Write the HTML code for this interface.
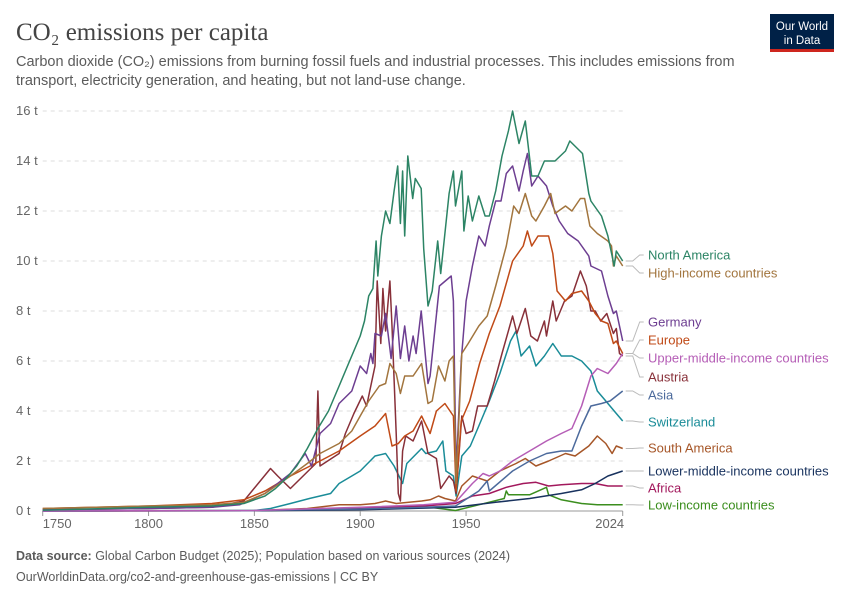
<!DOCTYPE html>
<html><head><meta charset="utf-8"><style>
body{margin:0;background:#fff;}
svg{display:block;font-family:"Liberation Sans",sans-serif;}
</style></head><body>
<svg id="chart" width="850" height="600" viewBox="0 0 850 600">
<text x="16" y="40" font-family="Liberation Serif,serif" font-size="25" fill="#444">CO₂ emissions per capita</text>
<text x="16" y="66" font-size="14.5" fill="#5b5b5b">Carbon dioxide (CO₂) emissions from burning fossil fuels and industrial processes. This includes emissions from</text>
<text x="16" y="85" font-size="14.5" fill="#5b5b5b">transport, electricity generation, and heating, but not land-use change.</text>
<g>
<rect x="770" y="14" width="64" height="38" fill="#002147"/>
<rect x="770" y="49" width="64" height="3" fill="#ce261e"/>
<text x="802" y="30" font-size="11.5" fill="#fff" text-anchor="middle">Our World</text>
<text x="802" y="44" font-size="11.5" fill="#fff" text-anchor="middle">in Data</text>
</g>
<g id="grid"></g>
<g id="lines"></g>
<g id="labels"></g>
<text x="16" y="560" font-size="12.5" fill="#5b5b5b"><tspan font-weight="bold">Data source:</tspan> Global Carbon Budget (2025); Population based on various sources (2024)</text>
<text x="16" y="581" font-size="12.5" fill="#5b5b5b">OurWorldinData.org/co2-and-greenhouse-gas-emissions | CC BY</text>
</svg>
<script>
const yTicks = [0,2,4,6,8,10,12,14,16];
const xTicks = [1750,1800,1850,1900,1950,2024];
const northAmerica = [[1750,0.03],[1800,0.15],[1830,0.2],[1845,0.3],[1855,0.6],[1860,0.9],[1865,1.3],[1870,1.8],[1875,2.5],[1880,3.3],[1885,4.0],[1890,5.0],[1895,6.0],[1900,7.0],[1902,7.6],[1904,8.6],[1906,8.9],[1907.5,10.8],[1908.3,9.4],[1910,11],[1912,12],[1914,11.5],[1916,12.8],[1917.7,13.8],[1919,11.5],[1920,13.6],[1921,11.0],[1922.5,14.2],[1924.8,12.5],[1926,13.3],[1928.8,12.9],[1930,10.5],[1932,8.2],[1934,8.8],[1936.6,10.8],[1938,9.5],[1942,12.7],[1944,13.6],[1945,12.2],[1948,13.6],[1949,11.2],[1951,12.6],[1953,11.6],[1956,12.6],[1959,11.8],[1961,11.8],[1964,12.8],[1967,14.2],[1970,15.2],[1972,16.0],[1975,14.7],[1978,15.6],[1981,13.4],[1984,13.4],[1987,14.0],[1992,14.0],[1997,14.4],[1999,14.8],[2005,14.3],[2008,12.7],[2009,12.4],[2014,11.8],[2017,11.0],[2020,9.8],[2021,10.4],[2024,10.0]];
const highIncome = [[1750,0.1],[1800,0.2],[1830,0.25],[1845,0.35],[1855,0.7],[1867,1.4],[1875,1.9],[1881,2.3],[1890,2.7],[1896,3.2],[1900,3.8],[1904,4.4],[1909,5.0],[1912,5.1],[1914,5.9],[1917,5.5],[1919,4.7],[1921,5.4],[1925,5.4],[1929,5.9],[1932,4.3],[1934,4.4],[1937,5.8],[1940,5.2],[1942,6.0],[1944,6.2],[1945.3,1.1],[1948,6.3],[1951,6.7],[1956,7.4],[1960,7.8],[1964,9.0],[1969,10.6],[1972.5,12.2],[1975,11.9],[1978,12.7],[1981,11.8],[1983,11.6],[1987,12.2],[1990,12.7],[1992,11.9],[1997,12.2],[2000,12.0],[2004,12.5],[2006,12.5],[2008.5,11.4],[2012,11.1],[2017,10.8],[2018.7,10.6],[2019.6,9.8],[2021,10.2],[2024,9.8]];
const germany = [[1750,0.05],[1800,0.1],[1830,0.15],[1843,0.25],[1855,0.7],[1867,1.5],[1874,2.3],[1877,1.8],[1881,3.1],[1886,3.5],[1890,4.3],[1896,4.8],[1900,5.8],[1903,5.5],[1905,6.3],[1906,5.9],[1907,7.1],[1910,7.0],[1912,7.9],[1914.6,6.1],[1917,8.2],[1919,6.1],[1921,7.4],[1923,6.0],[1925,7.0],[1926.4,6.3],[1928.8,8.0],[1932,5.1],[1933,5.4],[1937.4,9.0],[1943,9.4],[1944,8.4],[1945.3,1.6],[1947.7,6.0],[1950,8.4],[1953,9.8],[1956,11],[1959,10.6],[1961,11.4],[1964,12.4],[1966.5,12.4],[1969,13.5],[1972,13.8],[1975,12.8],[1977,13.6],[1979,14.3],[1981,13.0],[1984,13.4],[1988,13.0],[1991,12.2],[1994,11.6],[1998,11.1],[2003,10.8],[2008,10.2],[2009,9.8],[2014,9.6],[2017,8.6],[2019.6,7.9],[2021,8.0],[2024,6.8]];
const europe = [[1750,0.1],[1800,0.2],[1830,0.3],[1845,0.45],[1855,0.8],[1867,1.4],[1881,2.0],[1890,2.4],[1900,3.0],[1907,3.4],[1912,3.9],[1915,2.6],[1918,2.7],[1921,3.0],[1925,3.2],[1929,3.8],[1933,3.1],[1936,4.0],[1940,4.3],[1944,3.8],[1945.3,0.8],[1947.7,3.6],[1951.7,4.4],[1956.4,5.9],[1961,7.1],[1966,8.2],[1972,10.0],[1977,10.6],[1979,11.2],[1981,10.6],[1984,11.0],[1989,11.0],[1991,10.3],[1993,8.8],[1997,8.4],[2000,8.7],[2004.6,8.8],[2008,8.4],[2011,7.9],[2014,7.6],[2017,7.5],[2019.6,6.7],[2021,6.8],[2024,6.3]];
const upperMiddle = [[1750,0],[1850,0.02],[1900,0.15],[1930,0.25],[1945,0.35],[1953,1.1],[1958,1.5],[1961,1.4],[1966,1.6],[1972,2.0],[1980,2.4],[1988,2.8],[1995,3.1],[2000,3.3],[2004.6,4.2],[2009,5.4],[2012,5.7],[2017,5.5],[2021,5.9],[2024,6.3]];
const austria = [[1750,0.05],[1800,0.1],[1830,0.15],[1845,0.4],[1857.6,1.7],[1861,1.4],[1867,0.9],[1879,1.9],[1880,4.8],[1881,1.8],[1890,2.3],[1893,3.1],[1897,3.9],[1901,4.6],[1903,4.2],[1907,5.8],[1908,9.2],[1909.7,6.7],[1910.7,8.9],[1912,7.2],[1914,9.2],[1915,7.4],[1917,3.1],[1918,0.7],[1919,0.4],[1920,2.4],[1921.5,3.0],[1925,2.8],[1929,3.6],[1932,2.3],[1936,2.1],[1938,0.9],[1942,1.4],[1944,1.2],[1945.3,0.7],[1948,3.8],[1950,3.1],[1953,3.2],[1955.5,4.2],[1960,4.2],[1963.5,5.2],[1967,6.3],[1972,7.8],[1974,7.1],[1978,8.1],[1980.6,7.0],[1983.7,6.8],[1987,7.6],[1988,7.0],[1991,8.4],[1992.6,7.6],[1996.5,8.4],[2000,8.6],[2004,9.6],[2006.8,9.0],[2009,8.0],[2011,8.0],[2013.6,7.6],[2016.5,7.9],[2019.6,7.1],[2021,7.3],[2022.5,6.3],[2024,6.2]];
const asia = [[1750,0],[1850,0.02],[1900,0.08],[1930,0.15],[1945,0.2],[1956,0.8],[1960,1.2],[1961,0.8],[1972,1.6],[1980,2.0],[1988,2.3],[1995,2.4],[2000,2.4],[2004.6,3.4],[2009,4.2],[2014,4.3],[2018,4.4],[2024,4.8]];
const switzerland = [[1750,0],[1850,0.02],[1857.6,0.1],[1867,0.3],[1876,0.5],[1886,0.7],[1890,1.1],[1896,1.4],[1900,1.6],[1907,2.2],[1912,2.3],[1916,1.8],[1920,1.1],[1922,1.9],[1929,2.5],[1931,2.3],[1936,2.4],[1939,2.8],[1940.5,1.6],[1944,1.4],[1945.3,0.6],[1948,2.2],[1952,2.6],[1956,3.4],[1961,4.4],[1966,5.5],[1971,6.8],[1973.6,7.2],[1976,6.2],[1980,6.6],[1983,5.8],[1987,6.2],[1991,6.7],[1995,6.2],[2000,6.2],[2004.6,6.0],[2009,5.6],[2012,4.8],[2016,4.4],[2021,3.9],[2024,3.6]];
const southAmerica = [[1750,0],[1850,0.02],[1860,0.05],[1875,0.1],[1890,0.25],[1900,0.25],[1907,0.3],[1912,0.4],[1917,0.3],[1929,0.4],[1933,0.45],[1937,0.6],[1940,0.5],[1945,0.4],[1948,1.0],[1953,1.4],[1960,1.2],[1966,1.6],[1973.6,1.9],[1978,2.1],[1983,1.8],[1989,2.0],[1997,2.3],[2001.5,2.2],[2008,2.6],[2012,3.0],[2016,2.7],[2019,2.3],[2021,2.6],[2024,2.5]];
const lowerMiddle = [[1750,0],[1850,0.01],[1900,0.05],[1945,0.15],[1964,0.35],[1980,0.5],[1995,0.7],[2004.6,0.85],[2011,1.1],[2017,1.4],[2024,1.6]];
const africa = [[1750,0],[1850,0.01],[1900,0.1],[1930,0.2],[1945,0.3],[1953,0.6],[1961,0.7],[1969,0.95],[1977,1.1],[1983,1.15],[1989,1.0],[1995,1.05],[2004.6,1.1],[2011,1.1],[2017,1.0],[2024,1.0]];
const lowIncome = [[1750,0],[1850,0.01],[1900,0.08],[1933,0.15],[1945,0.02],[1956,0.25],[1968,0.5],[1969,0.8],[1970,0.65],[1980,0.65],[1988,0.95],[1989,0.65],[1995,0.45],[2004.6,0.3],[2012,0.25],[2024,0.25]];
const seriesNames = ["North America","High-income countries","Germany","Europe","Upper-middle-income countries","Austria","Asia","Switzerland","South America","Lower-middle-income countries","Africa","Low-income countries"];
const seriesData = [northAmerica,highIncome,germany,europe,upperMiddle,austria,asia,switzerland,southAmerica,lowerMiddle,africa,lowIncome];
const seriesColors = ["#2c8465","#a2753e","#6d3e91","#c04a17","#b55db6","#883039","#4c6a9c","#1a8c98","#a65628","#18325e","#a2185c","#3b8e1e"];
const labelY = [255,273,322,340,358,377,395,422,448,471,488,505];

const NS="http://www.w3.org/2000/svg";
const X0=42.7, X1=622.7, Y0=511, PX=(X1-X0)/(2024-1750), PY=25;
function xs(yr){return X0+(yr-1750)*PX;}
function ys(v){return Y0-v*PY;}
function mk(tag,attrs,parent){const e=document.createElementNS(NS,tag);for(const k in attrs)e.setAttribute(k,attrs[k]);parent.appendChild(e);return e;}
const grid=document.getElementById('grid'), lines=document.getElementById('lines'), labels=document.getElementById('labels');
yTicks.forEach(t=>{
  if(t>0){const l=mk('line',{x1:X0,x2:X1,y1:ys(t),y2:ys(t),stroke:'#ddd','stroke-dasharray':'4,4'},grid);
  
  }
  const tx=mk('text',{x:16,y:ys(t)+4,'font-size':13,fill:'#666'},grid);
  tx.textContent=t+' t';
  
  
});
const base=mk('line',{x1:X0,x2:X1,y1:Y0,y2:Y0,stroke:'#999'},grid);


xTicks.forEach(yr=>{
  const tk=mk('line',{x1:xs(yr),x2:xs(yr),y1:Y0,y2:Y0+5,stroke:'#999'},grid);
  
  
  const tx=mk('text',{x:yr===1750?X0:(yr===2024?xs(yr)-13:xs(yr)),y:528,'font-size':13,fill:'#666','text-anchor':yr===1750?'start':'middle'},grid);
  tx.textContent=yr;
  
  
});
for(let i=seriesData.length-1;i>=0;i--){
  const d=seriesData[i].map((p,j)=>(j?'L':'M')+xs(p[0]).toFixed(1)+','+ys(p[1]).toFixed(1)).join('');
  const p=mk('path',{d:d,fill:'none',stroke:seriesColors[i],'stroke-width':1.5,'stroke-linejoin':'round'},lines);
  
  
}
seriesData.forEach((s,i)=>{
  const last=s[s.length-1];
  const ey=ys(last[1]);
  const c=mk('path',{d:`M${X1+3},${ey.toFixed(1)}H${X1+10}L${X1+17},${labelY[i]}H${X1+21}`,fill:'none',stroke:'#bbb','stroke-width':1},labels);
  
  
  const t=mk('text',{x:648,y:labelY[i]+4.5,'font-size':13,fill:seriesColors[i]},labels);
  t.textContent=seriesNames[i];
  
  
});
</script>
</body></html>
